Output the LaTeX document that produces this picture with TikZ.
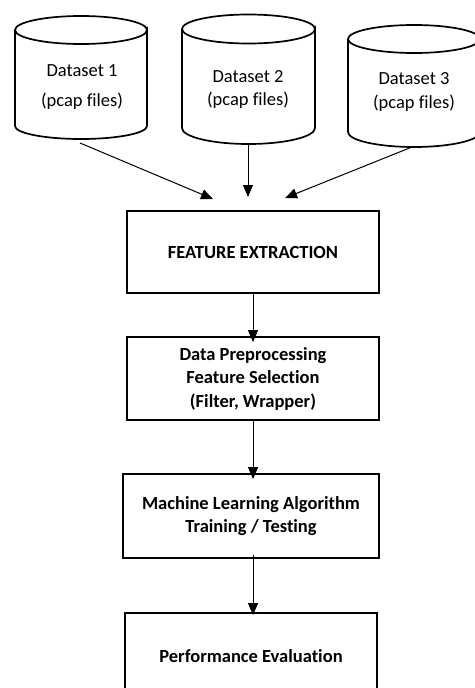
\documentclass[tikz,border=0pt]{standalone}
\usepackage{fontspec}
\setmainfont{Carlito}[Ligatures=NoCommon]
\usetikzlibrary{arrows.meta}
\begin{document}
\begin{tikzpicture}[x=1pt,y=-1pt,
  every node/.style={font=\fontsize{18.5}{23.5}\selectfont},
  procbox/.style={draw,line width=1.8pt,minimum width=252pt,align=center,inner sep=0pt,
    font=\fontsize{18.5}{23.5}\selectfont\bfseries},
  cyl/.style={draw,line width=1.7pt,fill=white},
  flow/.style={-{Triangle[length=12pt,width=10pt]},line width=1pt}]
\useasboundingbox (0,0) rectangle (474,688);
% dataset cylinders: centre x, half width, top ellipse y, bottom y, radii
\foreach \cx/\rx/\ty/\by/\tr/\br in {81/66/30/126/14/13, 248.5/66.5/29/128/14.5/16, 414/66/39/132/14/15}{
  \draw[cyl] (\cx-\rx,\ty) -- (\cx-\rx,\by) arc[start angle=180,end angle=360,x radius=\rx,y radius=-\br]
             -- (\cx+\rx,\ty) arc[start angle=0,end angle=-180,x radius=\rx,y radius=-\tr]
             arc[start angle=180,end angle=0,x radius=\rx,y radius=-\tr];
}
\node[align=center] (d1) at (82,87) {Dataset 1\\[6pt](pcap files)};
\node[align=center] (d2) at (248,89.5) {Dataset 2\\(pcap files)};
\node[align=center] (d3) at (414,92) {Dataset 3\\(pcap files)};
\coordinate (s1) at (80,143);
\coordinate (s2) at (248,145);
\coordinate (s3) at (412,147);
\coordinate (t1) at (213,199);
\coordinate (t2) at (248,197);
\coordinate (t3) at (285,198);
% processing stages
\node[procbox,minimum height=82pt] (fe) at (253,252) {FEATURE EXTRACTION};
\node[procbox,minimum height=83pt] (pre) at (253,378.5) {Data Preprocessing\\Feature Selection\\(Filter, Wrapper)};
\node[procbox,minimum width=256pt,minimum height=84pt] (ml) at (251,516) {Machine Learning Algorithm\\Training / Testing};
\node[procbox,minimum height=86pt] (pe) at (251,656) {Performance Evaluation};
\coordinate (c1) at (253,0);
% connectors
\draw[flow] (s1) -- (t1);
\draw[flow] (s2) -- (t2);
\draw[flow] (s3) -- (t3);
\draw[flow] (c1 |- fe.south) -- ([yshift=-6pt]c1 |- pre.north);
\draw[flow] (c1 |- pre.south) -- ([yshift=-6pt]c1 |- ml.north);
\draw[flow] ([yshift=4pt]c1 |- ml.south) -- ([yshift=-3pt]c1 |- pe.north);
\end{tikzpicture}
\end{document}
